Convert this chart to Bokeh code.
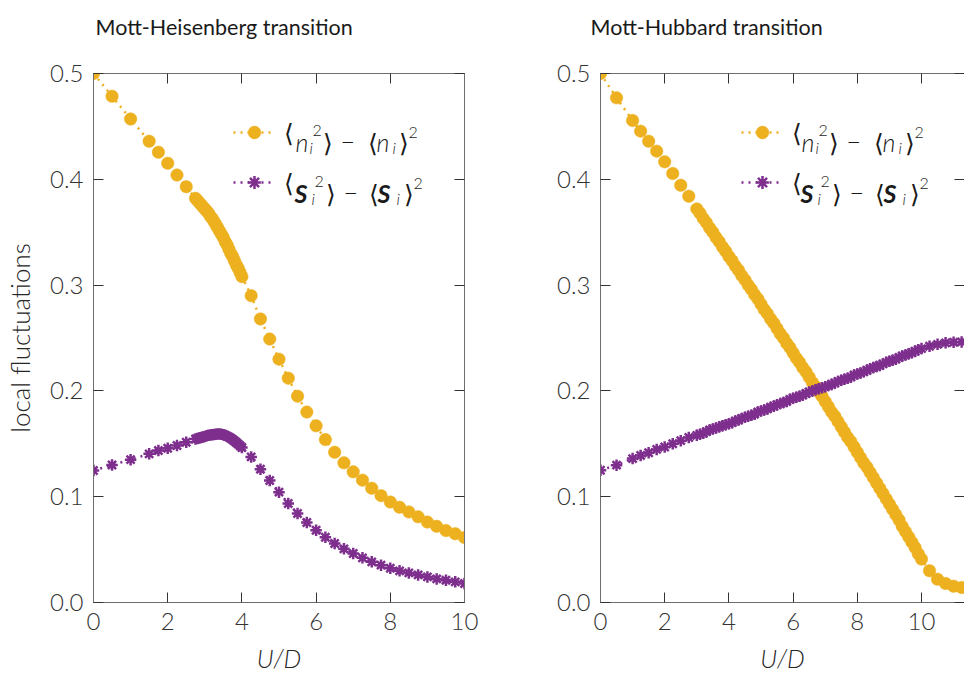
import numpy as np
from bokeh.plotting import figure
from bokeh.models import (Range1d, LinearAxis, FixedTicker, PrintfTickFormatter,
                          Label, Legend, LegendItem, CustomLabelingPolicy)
from bokeh.layouts import row
from bokeh.core.properties import value
from bokeh.embed import file_html
from bokeh.resources import INLINE

GOLD = "#EDB120"
PURPLE = "#7E2F8E"
FONT = "Lato Light, Lato, sans-serif"
FONT_B = "Lato, sans-serif"
TXT = "#262626"

# ---------------- Mott-Heisenberg transition ----------------
mh_u_lo = [0.0, 0.5, 1.0, 1.5, 1.75, 2.0, 2.25, 2.5]
mh_n_lo = [0.500, 0.4785, 0.457, 0.436, 0.4256, 0.4152, 0.404, 0.393]
mh_s_lo = [0.1247, 0.130, 0.135, 0.1405, 0.1436, 0.1458, 0.1484, 0.1515]

mh_u_mid = np.round(np.arange(2.75, 4.0001, 0.05), 2)
mh_n_mid = [0.382, 0.380, 0.378, 0.376, 0.374, 0.372, 0.370, 0.368, 0.365,
            0.363, 0.360, 0.357, 0.354, 0.351, 0.348, 0.345, 0.341, 0.338,
            0.334, 0.330, 0.327, 0.323, 0.319, 0.316, 0.312, 0.308]
mh_s_mid = [0.1545, 0.1550, 0.1555, 0.1560, 0.1565, 0.1570, 0.1575, 0.1580,
            0.1583, 0.1586, 0.1589, 0.1591, 0.1592, 0.1592, 0.1590, 0.1586,
            0.1580, 0.1572, 0.1563, 0.1553, 0.1541, 0.1527, 0.1512, 0.1497,
            0.1481, 0.1465]

mh_u_hi = np.round(np.arange(4.25, 10.0001, 0.25), 2)
mh_n_hi = [0.290, 0.268, 0.249, 0.230, 0.212, 0.195, 0.180, 0.167, 0.154,
           0.142, 0.132, 0.1235, 0.1156, 0.108, 0.101, 0.095, 0.090, 0.0856,
           0.081, 0.076, 0.072, 0.068, 0.065, 0.0614]
mh_s_hi = [0.1376, 0.126, 0.1153, 0.1043, 0.0936, 0.0841, 0.0756, 0.0683,
           0.0617, 0.0558, 0.0507, 0.0463, 0.0422, 0.0384, 0.0353, 0.0324,
           0.0299, 0.028, 0.0261, 0.0242, 0.0223, 0.0211, 0.0195, 0.018]

# ---------------- Mott-Hubbard transition ----------------
hb_u_lo = [0.0, 0.5, 1.0, 1.25, 1.5, 1.75, 2.0, 2.25, 2.5, 2.75]
hb_n_lo = [0.500, 0.477, 0.4556, 0.4455, 0.436, 0.4266, 0.4165, 0.4055, 0.3944, 0.384]
hb_s_lo = [0.125, 0.1298, 0.136, 0.139, 0.1415, 0.1447, 0.147, 0.150, 0.153, 0.156]

hb_u_mid = np.round(np.arange(3.0, 10.0001, 0.1), 2)
hb_n_mid = [0.372, 0.368, 0.363, 0.359, 0.354, 0.350, 0.345, 0.341, 0.336, 0.332,
            0.327, 0.323, 0.318, 0.314, 0.309, 0.305, 0.300, 0.296, 0.291, 0.287,
            0.282, 0.277, 0.273, 0.268, 0.264, 0.259, 0.254, 0.250, 0.245, 0.241,
            0.236, 0.231, 0.227, 0.222, 0.218, 0.213, 0.208, 0.204, 0.199, 0.195,
            0.190, 0.185, 0.180, 0.176, 0.171, 0.166, 0.161, 0.156, 0.152, 0.147,
            0.142, 0.137, 0.132, 0.128, 0.123, 0.118, 0.113, 0.108, 0.103, 0.098,
            0.093, 0.088, 0.083, 0.078, 0.072, 0.067, 0.062, 0.057, 0.052, 0.046,
            0.041]
hb_s_mid = [0.158, 0.159, 0.160, 0.1615, 0.163, 0.164, 0.165, 0.166, 0.167, 0.168,
            0.169, 0.170, 0.1715, 0.1725, 0.174, 0.175, 0.176, 0.177, 0.178, 0.180,
            0.181, 0.182, 0.183, 0.1845, 0.1855, 0.187, 0.188, 0.189, 0.190, 0.192,
            0.193, 0.194, 0.195, 0.196, 0.1975, 0.199, 0.200, 0.201, 0.202, 0.203,
            0.204, 0.205, 0.206, 0.2075, 0.209, 0.210, 0.211, 0.212, 0.213, 0.215,
            0.216, 0.217, 0.218, 0.2195, 0.221, 0.222, 0.223, 0.224, 0.2255, 0.227,
            0.228, 0.229, 0.230, 0.2315, 0.233, 0.234, 0.235, 0.236, 0.2375, 0.239,
            0.240]

hb_u_hi = [10.25, 10.5, 10.75, 11.0, 11.25, 11.5]
hb_n_hi = [0.030, 0.022, 0.018, 0.0154, 0.0142, 0.0135]
hb_s_hi = [0.2422, 0.244, 0.2454, 0.246, 0.2463, 0.2465]

x_ticks = [0, 2, 4, 6, 8, 10]
y_ticks = [0.0, 0.1, 0.2, 0.3, 0.4, 0.5]

PX_PER_U_LEFT = 37.1
PX_PER_U_RIGHT = 32.1

# mirror axes (top / right) carry ticks only
NO_LABELS = "const all = [...indices]; for (const i of all) { indices.unset(i) } return indices"


def style_axis(ax, show_labels=True, show_line=True):
    ax.axis_line_color = "#6e6e6e" if show_line else None
    ax.axis_line_width = 1
    ax.major_tick_line_color = "#333333"
    ax.major_tick_in = 10
    ax.major_tick_out = 0
    ax.minor_tick_line_color = None
    ax.major_label_text_font = FONT
    ax.major_label_text_color = "#333333"
    if show_labels:
        ax.major_label_text_font_size = "24px"
        ax.major_label_standoff = 10
    else:
        ax.major_label_text_font_size = "0px"
        ax.major_label_standoff = 0
        ax.major_label_policy = CustomLabelingPolicy(code=NO_LABELS)


def make_panel(frame_w, x_end, border_left, border_right, u, n, s, title, title_off,
               legend_x, text_x, ylabel):
    p = figure(frame_width=frame_w, frame_height=529,
               x_range=Range1d(0, x_end), y_range=Range1d(0, 0.5),
               min_border_left=border_left, min_border_right=border_right,
               min_border_top=73, min_border_bottom=72,
               output_backend="svg", toolbar_location=None, tools="",
               background_fill_color="white", border_fill_color="white")
    p.outline_line_color = None
    p.xgrid.grid_line_color = None
    p.ygrid.grid_line_color = None

    # heading: an empty second line keeps the visible line high above the frame
    p.title.text = title + "\n"
    p.title.align = "left"
    p.title.offset = title_off
    p.title.text_font = FONT_B
    p.title.text_font_style = "normal"
    p.title.text_font_size = "21.5px"
    p.title.text_color = "#1a1a1a"
    p.title.standoff = 15

    xb = p.xaxis[0]
    xb.ticker = FixedTicker(ticks=x_ticks)
    style_axis(xb)
    xb.axis_label = "U/D"
    xb.axis_label_text_font = FONT
    xb.axis_label_text_font_style = "italic"
    xb.axis_label_text_font_size = "25px"
    xb.axis_label_text_color = TXT
    xb.axis_label_standoff = 10

    yl = p.yaxis[0]
    yl.ticker = FixedTicker(ticks=y_ticks)
    yl.formatter = PrintfTickFormatter(format="%.1f")
    style_axis(yl)
    if ylabel:
        yl.axis_label = ylabel
        yl.axis_label_text_font = FONT
        yl.axis_label_text_font_style = "normal"
        yl.axis_label_text_font_size = "26px"
        yl.axis_label_text_color = TXT
        yl.axis_label_standoff = 11

    top = LinearAxis(ticker=FixedTicker(ticks=x_ticks))
    style_axis(top, show_labels=False)
    p.add_layout(top, "above")
    right = LinearAxis(ticker=FixedTicker(ticks=y_ticks))
    style_axis(right, show_labels=False, show_line=(x_end <= 10.01))
    p.add_layout(right, "right")

    ln = p.line(u, n, line_color=GOLD, line_width=2.5, line_dash="2 5")
    sn = p.scatter(u, n, marker="circle", size=12.5, fill_color=GOLD,
                   line_color=GOLD, line_width=0.5)
    ls = p.line(u, s, line_color=PURPLE, line_width=2.5, line_dash="2 5")
    ss = p.scatter(u, s, marker="asterisk", size=11.5, line_color=PURPLE,
                   line_width=2.5)

    # the opening bracket of each entry is the legend's own label
    leg = Legend(items=[LegendItem(label=value("⟨"), renderers=[ln, sn]),
                        LegendItem(label=value("⟨"), renderers=[ls, ss])],
                 location=(legend_x, 404), orientation="vertical",
                 padding=0, margin=0, spacing=18,
                 glyph_width=42, glyph_height=32, label_height=32,
                 label_width=0, label_standoff=9,
                 background_fill_alpha=0, border_line_alpha=0,
                 label_text_font=FONT, label_text_font_size="25px",
                 label_text_color="#1a1a1a")
    p.add_layout(leg)

    # rest of each legend entry, with super/subscripts
    rows = [
        (0.435, [("n", 10, 0, 25, "italic", FONT),
                 ("2", 27, 12, 16, "normal", FONT), ("i", 24, -5, 16, "italic", FONT),
                 ("⟩", 37, 0, 25, "normal", FONT), ("−", 55, 0, 25, "normal", FONT),
                 ("⟨", 82, 0, 25, "normal", FONT), ("n", 91, 0, 25, "italic", FONT),
                 ("i", 107, -5, 16, "italic", FONT), ("⟩", 113, 0, 25, "normal", FONT),
                 ("2", 123, 10, 16, "normal", FONT)]),
        (0.387, [("S", 9, 0, 25, "bold italic", FONT_B),
                 ("2", 29, 12, 16, "normal", FONT), ("i", 26, -5, 16, "italic", FONT),
                 ("⟩", 40, 0, 25, "normal", FONT), ("−", 58, 0, 25, "normal", FONT),
                 ("⟨", 83, 0, 25, "normal", FONT), ("S", 92, 0, 25, "bold italic", FONT_B),
                 ("i", 111, -5, 16, "italic", FONT), ("⟩", 118, 0, 25, "normal", FONT),
                 ("2", 128, 10, 16, "normal", FONT)]),
    ]
    for yb, pieces in rows:
        for txt, dx, dy, fs, style, fnt in pieces:
            p.add_layout(Label(x=text_x, y=yb, x_offset=dx, y_offset=dy, text=txt,
                               text_font=fnt, text_font_size=f"{fs}px",
                               text_font_style=style, text_color="#1a1a1a",
                               text_baseline="alphabetic", text_align="left"))
    return p


mh_u = list(mh_u_lo) + list(mh_u_mid) + list(mh_u_hi)
mh_n = mh_n_lo + mh_n_mid + mh_n_hi
mh_s = mh_s_lo + mh_s_mid + mh_s_hi

hb_u = list(hb_u_lo) + list(hb_u_mid) + list(hb_u_hi)
hb_n = hb_n_lo + hb_n_mid + hb_n_hi
hb_s = hb_s_lo + hb_s_mid + hb_s_hi

p1 = make_panel(371, 10.0, 93, 36, mh_u, mh_n, mh_s,
                "Mott-Heisenberg transition", 2,
                140, 192 / PX_PER_U_LEFT, "local fluctuations")
p2 = make_panel(364, 364 / PX_PER_U_RIGHT, 100, 0, hb_u, hb_n, hb_s,
                "Mott-Hubbard transition", -10,
                141, 191 / PX_PER_U_RIGHT, None)

layout = row(p1, p2)
open("out.html", "w").write(file_html(layout, INLINE))
